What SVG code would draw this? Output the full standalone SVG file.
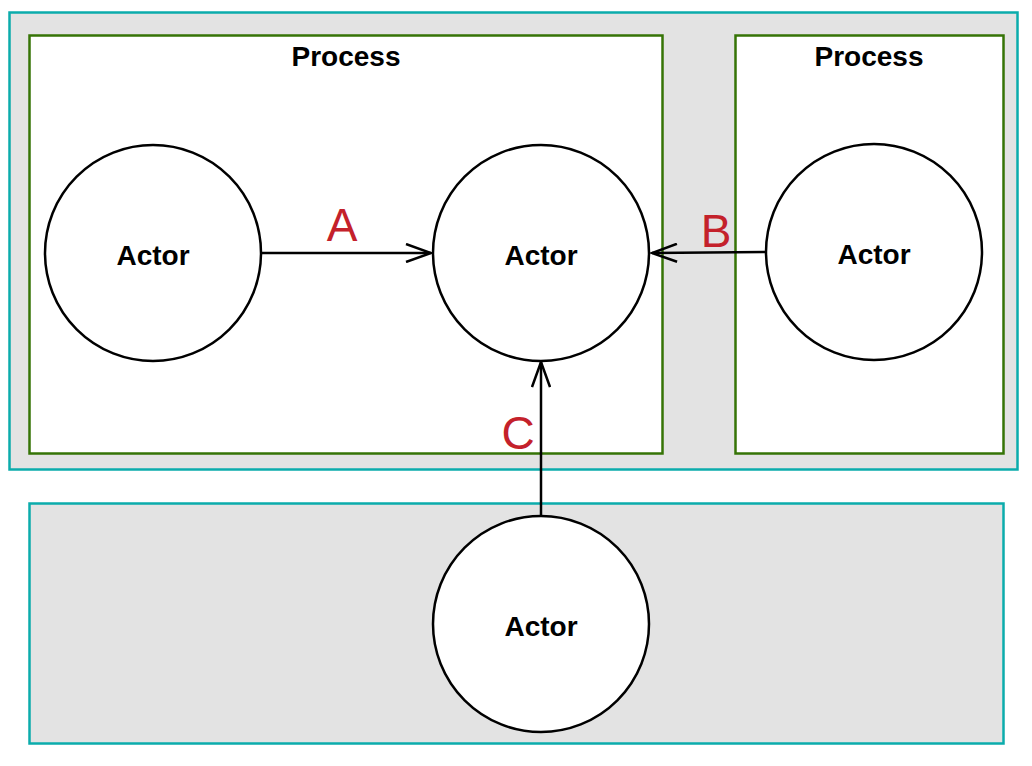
<svg xmlns="http://www.w3.org/2000/svg" width="1032" height="766" viewBox="0 0 1032 766">
<defs>
<style>
.outer{fill:#e3e3e3;stroke:#0bacac;stroke-width:2.5}
.proc{fill:#ffffff;stroke:#367406;stroke-width:2.5}
.actor{fill:#ffffff;stroke:#000;stroke-width:2.5}
.t{font-family:"Liberation Sans",Arial,sans-serif;font-weight:bold;font-size:28px;fill:#000;text-anchor:middle}
.lbl{font-family:"Liberation Sans",Arial,sans-serif;font-size:46px;fill:#c4212b;text-anchor:middle}
.edge{stroke:#000;stroke-width:2.5;fill:none}
</style>
<marker id="arr" viewBox="0 0 30 20" refX="28" refY="10" markerWidth="30" markerHeight="20" markerUnits="userSpaceOnUse" orient="auto">
<path d="M3,1 L28,10 L3,19" fill="none" stroke="#000" stroke-width="2.5"/>
</marker>
</defs>
<rect width="1032" height="766" fill="#ffffff"/>
<g id="group-top">
<rect class="outer" x="9.5" y="12.5" width="1008" height="457"/>
</g>
<g id="group-bottom">
<rect class="outer" x="29.5" y="503.5" width="974" height="240"/>
</g>
<g id="process-1">
<rect class="proc" x="29.5" y="35.5" width="633" height="418"/>
<text class="t" x="346" y="66">Process</text>
</g>
<g id="process-2">
<rect class="proc" x="735.5" y="35.5" width="268" height="418"/>
<text class="t" x="869" y="66">Process</text>
</g>
<g id="actor-1">
<circle class="actor" cx="153" cy="253" r="108"/>
<text class="t" x="153" y="265">Actor</text>
</g>
<g id="actor-2">
<circle class="actor" cx="541" cy="253" r="108"/>
<text class="t" x="541" y="265">Actor</text>
</g>
<g id="actor-3">
<circle class="actor" cx="874" cy="252" r="108"/>
<text class="t" x="874" y="264">Actor</text>
</g>
<g id="actor-4">
<circle class="actor" cx="541" cy="624" r="108"/>
<text class="t" x="541" y="636">Actor</text>
</g>
<g id="connectors">
<line class="edge" x1="261" y1="253" x2="431" y2="253" marker-end="url(#arr)"/>
<line class="edge" x1="766" y1="252" x2="652" y2="253" marker-end="url(#arr)"/>
<line class="edge" x1="541" y1="516" x2="541" y2="362" marker-end="url(#arr)"/>
<text class="lbl" x="342" y="241">A</text>
<text class="lbl" x="716" y="247">B</text>
<text class="lbl" x="518" y="449">C</text>
</g>
</svg>
